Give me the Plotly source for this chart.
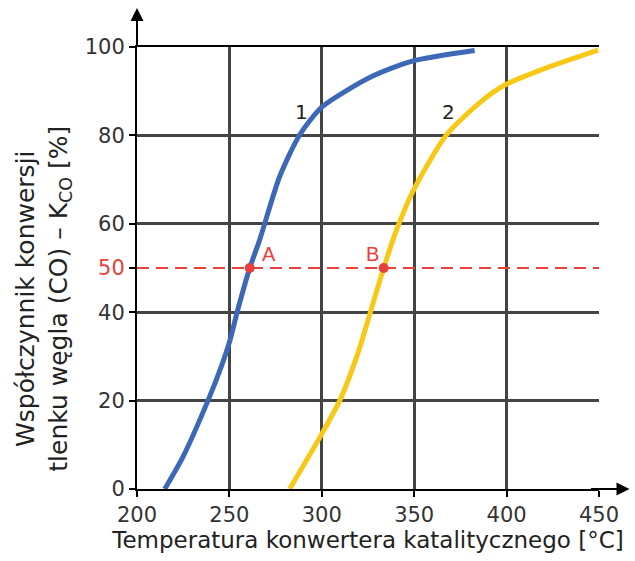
import plotly.graph_objects as go

# ---- data ----
blue_x = [215, 225, 238.4, 245.7, 250.2, 254.5, 261, 266.4, 277.2, 288, 300.3, 327, 349, 382.7]
blue_y = [0, 7.4, 20, 27.8, 33.5, 40.5, 50, 56.4, 70.7, 80.1, 86.5, 93.3, 96.8, 99.2]
yellow_x = [282.6, 300.3, 309.7, 319.6, 326.5, 333.5, 340.4, 349.7, 367.4, 386, 399, 419, 449.5]
yellow_y = [0, 12.7, 20, 30.8, 40.3, 50, 58.6, 67.7, 80.1, 87.6, 91.4, 94.9, 99.3]

points_x = [261, 333.5]
points_y = [50, 50]
points_labels = ["A", "B"]

curve_labels = ["1", "2"]
curve_label_x = [289, 368.3]
curve_label_y = [85.4, 85.4]

x_ticks = [200, 250, 300, 350, 400, 450]
y_ticks = [0, 20, 40, 50, 60, 80, 100]
y_grid = [20, 40, 60, 80]
ref_level = 50

y_title = "Współczynnik konwersji<br>tlenku węgla (CO) – K<sub>CO</sub> [%]"
x_title = "Temperatura konwertera katalitycznego [°C]"

BLUE = "#3d68b8"
YELLOW = "#f7c916"
RED = "#e8403a"
GRID = "#444444"
FONT = "Liberation Sans, Arial, sans-serif"
WIDE = "DejaVu Sans, sans-serif"

fig = go.Figure()

# reference 50 % dashed line
fig.add_trace(go.Scatter(x=[x_ticks[0], x_ticks[-1]], y=[ref_level, ref_level], mode="lines",
                         line=dict(color=RED, width=2, dash="12px,7px"), hoverinfo="skip"))

fig.add_trace(go.Scatter(x=blue_x, y=blue_y, mode="lines",
                         line=dict(color=BLUE, width=5, shape="spline", smoothing=0.7)))
fig.add_trace(go.Scatter(x=yellow_x, y=yellow_y, mode="lines",
                         line=dict(color=YELLOW, width=5, shape="spline", smoothing=0.7)))

fig.add_trace(go.Scatter(x=points_x, y=points_y, mode="markers",
                         marker=dict(color=RED, size=10)))

# invisible trace to activate the grid overlay axis
fig.add_trace(go.Scatter(x=[x_ticks[0]], y=[0], yaxis="y2", mode="markers",
                         marker=dict(opacity=0), hoverinfo="skip"))

annotations = []
for lab, x, y in zip(points_labels, points_x, points_y):
    annotations.append(dict(x=x, y=y, text=lab, showarrow=False, xref="x", yref="y",
                            xshift=19 if lab == "A" else -11, yshift=14,
                            font=dict(family=FONT, size=20, color=RED)))
for lab, x, y in zip(curve_labels, curve_label_x, curve_label_y):
    annotations.append(dict(x=x, y=y, text=lab, showarrow=False, xref="x", yref="y",
                            font=dict(family=WIDE, size=20, color="#222222")))

# y-axis title placed as rotated annotation
annotations.append(dict(x=0, y=0.4305, xref="paper", yref="paper", xshift=-93,
                        xanchor="center", yanchor="middle", textangle=-90,
                        showarrow=False, text=y_title,
                        font=dict(family=WIDE, size=25, color="#222222")))

# axis arrows
annotations.append(dict(x=0, y=1.088, xref="paper", yref="paper", ax=0, ay=40,
                        showarrow=True, arrowhead=2, arrowsize=1.3, arrowwidth=2,
                        arrowcolor="black", text=""))
annotations.append(dict(x=1.066, y=0, xref="paper", yref="paper", ax=-40, ay=0,
                        showarrow=True, arrowhead=2, arrowsize=1.3, arrowwidth=2,
                        arrowcolor="black", text=""))

y_ticktext = [f'<span style="color:{RED}">{v}</span>' if v == ref_level else str(v) for v in y_ticks]

fig.update_layout(
    width=635, height=561,
    margin=dict(l=137, r=36, t=47, b=72),
    paper_bgcolor="white", plot_bgcolor="white",
    showlegend=False,
    font=dict(family=WIDE, color="#333333"),
    annotations=annotations,
    xaxis=dict(range=[200, 450], tickvals=x_ticks, ticktext=[str(v) for v in x_ticks],
               showgrid=True, gridcolor=GRID, gridwidth=2.5,
               showline=True, linecolor="black", linewidth=2, mirror=True,
               ticks="outside", ticklen=6, tickwidth=2, tickcolor="black",
               tickfont=dict(family=WIDE, size=21, color="#333333"),
               zeroline=False,
               title=dict(text=x_title,
                          font=dict(family=WIDE, size=23, color="#222222"), standoff=2)),
    yaxis=dict(range=[0, 100], tickvals=y_ticks, ticktext=y_ticktext,
               showgrid=False,
               showline=True, linecolor="black", linewidth=2,
               ticks="outside", ticklen=6, tickwidth=2, tickcolor="black",
               tickfont=dict(family=WIDE, size=21, color="#333333"),
               zeroline=False),
    yaxis2=dict(range=[0, 100], overlaying="y", side="left", tickvals=y_grid,
                showticklabels=False, showgrid=True, gridcolor=GRID, gridwidth=2.5,
                zeroline=False, showline=False, ticks=""),
)

fig.write_html("out.html")
